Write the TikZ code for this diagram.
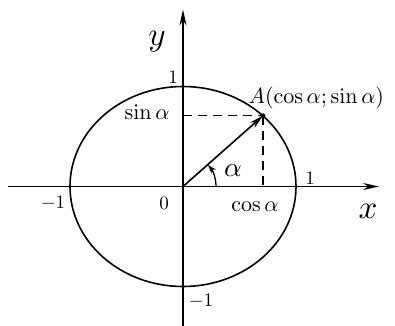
\documentclass[tikz,border=0pt]{standalone}
\usetikzlibrary{arrows.meta}
\begin{document}
\begin{tikzpicture}[x=1pt,y=1pt,
  axis/.style={line width=1.6pt,-{Stealth[length=16pt,width=7pt]}},
  curve/.style={line width=1.6pt},
  guide/.style={line width=1.3pt,dash pattern=on 9pt off 6pt},
  lbl/.style={scale=2.2,inner sep=0.5pt},
  num/.style={scale=1.9,inner sep=0.5pt},
  axlbl/.style={scale=3.3,inner sep=0.5pt}]
\useasboundingbox (-183,-138.5) rectangle (212,186.5);
\coordinate (O) at (0,0);
\coordinate (xs) at (-175,0);
\coordinate (xe) at (196,0);
\coordinate (ys) at (0,-140);
\coordinate (ye) at (0,177);
\draw[axis] (xs) -- (xe);
\draw[axis] (ys) -- (ye);
\draw[curve] (O) ellipse [x radius=113, y radius=100];
\coordinate (A) at (79.9,70.7);
\coordinate (Ax) at (79.9,0);
\coordinate (Ay) at (0,70.7);
\draw[guide] (Ay) -- (A);
\draw[guide] (A) -- (Ax);
\draw[line width=1.6pt,-{Stealth[length=14pt,width=7pt]}] (O) -- (A);
\fill (A) circle (2.5);
\draw[line width=1.3pt,-{Stealth[length=9pt,width=6pt]}] (33,0) arc[start angle=0,end angle=41,radius=33];
\node[axlbl] (ylbl) at (-26,145) {$y$};
\node[axlbl] (xlbl) at (185,-25) {$x$};
\node[num] (one1) at (-10,109) {1};
\node[num] (one2) at (127,8.5) {1};
\node[num] (m1a) at (-130,-16.5) {$-1$};
\node[num] (m1b) at (18,-114.5) {$-1$};
\node[num] (zero) at (-19,-16.5) {0};
\node[lbl] (sin) at (-36,74) {$\sin\alpha$};
\node[lbl] (cos) at (72,-20) {$\cos\alpha$};
\node[lbl,scale=1.25] (al) at (50,16) {$\alpha$};
\node[lbl,anchor=west] (Alab) at (64,89) {$A(\cos\alpha;\sin\alpha)$};
\end{tikzpicture}
\end{document}
